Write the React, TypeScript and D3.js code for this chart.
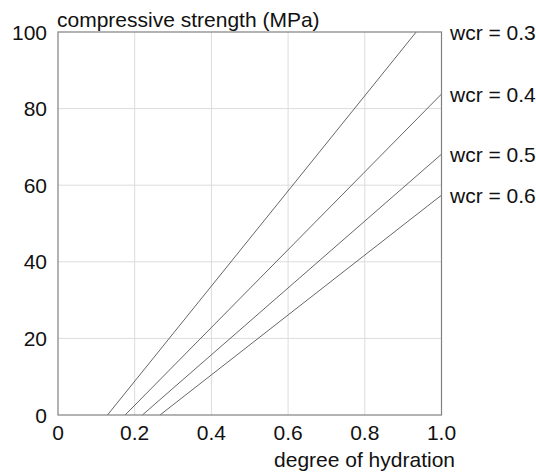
import React from "react";
import * as d3 from "d3";

const wcrLabels = ["wcr = 0.3", "wcr = 0.4", "wcr = 0.5", "wcr = 0.6"];
const hydrationAtZero = [0.129, 0.175, 0.22, 0.266];
const strengthAtFull = [108.2, 83.8, 68.1, 57.4];
const xTicks = [0, 0.2, 0.4, 0.6, 0.8, 1.0];
const xTickLabels = ["0", "0.2", "0.4", "0.6", "0.8", "1.0"];
const yTicks = [0, 20, 40, 60, 80, 100];

const W = 536;
const H = 475;
const m = { left: 58, top: 32, right: 441.5, bottom: 415 };
const font = "'Liberation Sans', Arial, sans-serif";
const fs = 21;

export default function App() {
  const x = d3.scaleLinear().domain([0, 1]).range([m.left, m.right]);
  const y = d3.scaleLinear().domain([0, 100]).range([m.bottom, m.top]);

  const lines = hydrationAtZero.map((x0, i) => {
    const y1 = strengthAtFull[i];
    let xe = 1;
    let ye = y1;
    if (y1 > 100) {
      xe = x0 + (1 - x0) * (100 / y1);
      ye = 100;
    }
    return { pts: [[x0, 0], [xe, ye]] as [number, number][], ye, label: wcrLabels[i] };
  });
  const lineGen = d3
    .line<[number, number]>()
    .x((d) => x(d[0]))
    .y((d) => y(d[1]));

  return (
    <svg width={W} height={H} style={{ position: "absolute", left: 0, top: 0 }}>
      <rect width={W} height={H} fill="#fff" />
      {xTicks.slice(1, -1).map((t) => (
        <line key={"gx" + t} x1={x(t)} x2={x(t)} y1={y(0)} y2={y(100)} stroke="#dcdcdc" strokeWidth={1} />
      ))}
      {yTicks.slice(1, -1).map((t) => (
        <line key={"gy" + t} x1={x(0)} x2={x(1)} y1={y(t)} y2={y(t)} stroke="#dcdcdc" strokeWidth={1} />
      ))}
      {lines.map((l, i) => (
        <path key={i} d={lineGen(l.pts) || ""} fill="none" stroke="#555" strokeWidth={0.9} />
      ))}
      <rect x={x(0)} y={y(100)} width={x(1) - x(0)} height={y(0) - y(100)} fill="none" stroke="#808080" strokeWidth={1.2} />
      {yTicks.map((t) => (
        <text key={"yt" + t} x={47} y={y(t)} dy="0.36em" textAnchor="end" fontFamily={font} fontSize={fs} fill="#111">
          {t}
        </text>
      ))}
      {xTicks.map((t, i) => (
        <text key={"xt" + t} x={x(t)} y={440} textAnchor="middle" fontFamily={font} fontSize={fs} fill="#111">
          {xTickLabels[i]}
        </text>
      ))}
      {lines.map((l, i) => (
        <text key={"lb" + i} x={450} y={y(l.ye)} dy="0.36em" fontFamily={font} fontSize={fs} fill="#111">
          {l.label}
        </text>
      ))}
      <text x={57} y={26.5} fontFamily={font} fontSize={fs} fill="#111">
        compressive strength (MPa)
      </text>
      <text x={455} y={466.5} textAnchor="end" fontFamily={font} fontSize={fs} fill="#111">
        degree of hydration
      </text>
    </svg>
  );
}
